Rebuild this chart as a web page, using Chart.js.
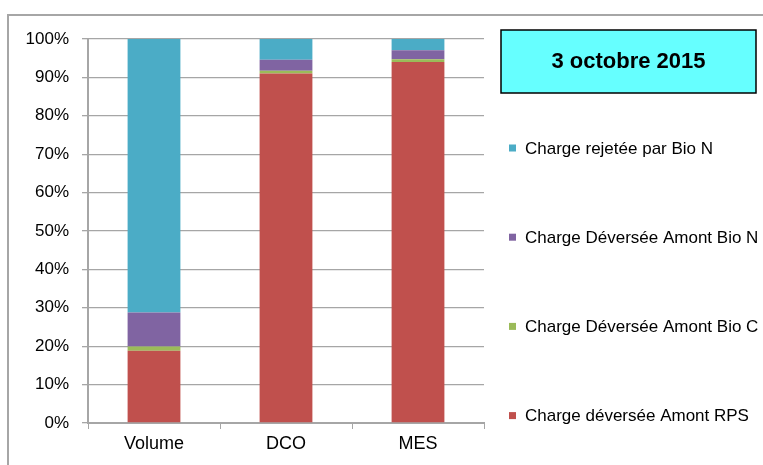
<!DOCTYPE html>
<html>
<head>
<meta charset="utf-8">
<script src="https://cdn.jsdelivr.net/npm/chart.js@4/dist/chart.umd.min.js"></script>
<style>
	html, body { margin: 0; padding: 0; background: #fff; }
	#wrap { width: 763px; height: 465px; position: relative; }
</style>
</head>
<body>
<div id="wrap"><canvas id="chart"></canvas></div>
<script>
// data (percent of total per parameter)
const categories = ['Volume', 'DCO', 'MES'];
const chargeRPS = [18.8, 91.0, 94.0];
const chargeBioC = [1.1, 0.7, 0.7];
const chargeBioN = [8.9, 2.9, 2.4];
const chargeRejetee = [71.2, 5.4, 2.9];
const yTicks = [0, 10, 20, 30, 40, 50, 60, 70, 80, 90, 100];
const titleText = '3 octobre 2015';

const FONT = '"Liberation Sans", Arial, sans-serif';
const GRID = '#a6a6a6';

// frame, date box and the hand placed legend (Excel style)
const decor = {
	id: 'decor',
	beforeDraw(chart){
		const c = chart.ctx;
		c.save();
		c.strokeStyle = '#a6a6a6';
		c.lineWidth = 2;
		c.strokeRect(8, 15, 800, 500);
		c.restore();
	},
	afterDraw(chart){
		const c = chart.ctx;
		c.save();
		// date box
		c.fillStyle = '#66ffff';
		c.fillRect(501, 30, 255, 63);
		c.strokeStyle = '#000';
		c.lineWidth = 1.5;
		c.strokeRect(501, 30, 255, 63);
		c.fillStyle = '#000';
		c.font = 'bold 22px ' + FONT;
		c.textAlign = 'center';
		c.textBaseline = 'middle';
		c.fillText(titleText, 628.5, 62);
		// legend, top entry is the top of the stack
		c.font = '17px ' + FONT;
		c.textAlign = 'left';
		const ds = chart.data.datasets.slice().reverse();
		ds.forEach((d, i) => {
			const y = 148 + i * 89.2;
			c.fillStyle = d.backgroundColor;
			c.fillRect(509, y - 3.5, 7, 7);
			c.fillStyle = '#000';
			c.fillText(d.label, 525, y + 1);
		});
		c.restore();
	}
};

new Chart(document.getElementById('chart'), {
	type: 'bar',
	data: {
		labels: categories,
		datasets: [
			{ label: 'Charge déversée Amont RPS', data: chargeRPS, backgroundColor: '#c0504d' },
			{ label: 'Charge Déversée Amont Bio C', data: chargeBioC, backgroundColor: '#9bbb59' },
			{ label: 'Charge Déversée Amont Bio N', data: chargeBioN, backgroundColor: '#8064a2' },
			{ label: 'Charge rejetée par Bio N', data: chargeRejetee, backgroundColor: '#4bacc6' }
		]
	},
	options: {
		responsive: true,
		maintainAspectRatio: false,
		animation: false,
		layout: { padding: { left: 0, right: 279, top: 39, bottom: 0 } },
		datasets: { bar: { barPercentage: 0.4, categoryPercentage: 1, borderWidth: 0 } },
		plugins: { legend: { display: false }, tooltip: { enabled: false } },
		scales: {
			x: {
				stacked: true,
				afterFit(s){ s.height = 42; },
				grid: { offset: true, drawOnChartArea: false, color: GRID, tickLength: 6, lineWidth: 1 },
				border: { color: GRID, width: 2 },
				ticks: { color: '#000', font: { family: FONT, size: 18 }, padding: 4 }
			},
			y: {
				stacked: true,
				min: 0,
				max: 100,
				afterFit(s){ s.width = 88; },
				afterBuildTicks(s){ s.ticks = yTicks.map(v => ({ value: v })); },
				grid: { color: GRID, tickLength: 6, lineWidth: 1.3 },
				border: { color: GRID, width: 2 },
				ticks: { color: '#000', font: { family: FONT, size: 17 }, padding: 13, callback: v => v + '%' }
			}
		}
	},
	plugins: [decor]
});
</script>
</body>
</html>
